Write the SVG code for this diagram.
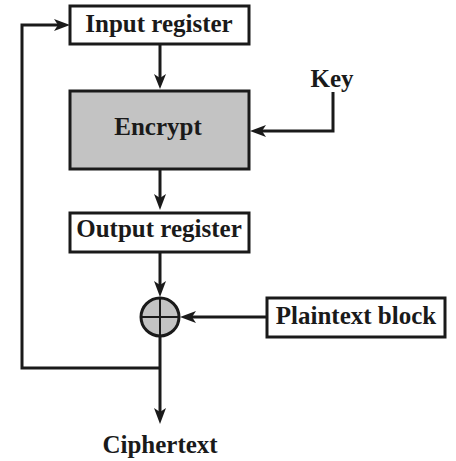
<svg xmlns="http://www.w3.org/2000/svg" width="456" height="461" viewBox="0 0 456 461">
<style>
.box{fill:#fff;stroke:#1a1a1a;stroke-width:3}
.grey{fill:#c3c3c3}
.lbl{font-family:"Liberation Serif","Times New Roman",serif;font-weight:bold;font-size:25px;fill:#1a1a1a;text-anchor:middle}
.ln{fill:none;stroke:#1a1a1a;stroke-width:3}
.head{fill:#1a1a1a}
</style>
<rect width="456" height="461" fill="#fff"/>
<g id="connectors">
<line class="ln" x1="160" y1="45" x2="160" y2="80"/>
<path class="head" d="M154,74 L160,89 L166,74 L160,78 z"/>
<line class="ln" x1="160" y1="170" x2="160" y2="200"/>
<path class="head" d="M154,194 L160,210 L166,194 L160,198 z"/>
<polyline class="ln" points="333,92 333,131 258,131"/>
<path class="head" d="M266,125 L250,131 L266,137 L262,131 z"/>
<line class="ln" x1="160" y1="253" x2="160" y2="288"/>
<path class="head" d="M154,281 L160,297 L166,281 L160,285 z"/>
<line class="ln" x1="267" y1="317" x2="188" y2="317"/>
<path class="head" d="M196,311 L180,317 L196,323 L192,317 z"/>
<line class="ln" x1="160" y1="337" x2="160" y2="414"/>
<path class="head" d="M154,408 L160,424 L166,408 L160,412 z"/>
<polyline class="ln" points="160,368 22,368 22,25 60,25"/>
<path class="head" d="M54,19 L70,25 L54,31 L58,25 z"/>
</g>
<g id="input-register">
<rect class="box" x="70" y="6" width="179" height="38"/>
<text class="lbl" x="159" y="32">Input register</text>
</g>
<g id="encrypt">
<rect class="box grey" x="70" y="91" width="179" height="78"/>
<text class="lbl" x="158" y="135">Encrypt</text>
</g>
<g id="key">
<text class="lbl" x="332" y="87">Key</text>
</g>
<g id="output-register">
<rect class="box" x="70" y="213" width="179" height="39"/>
<text class="lbl" x="159" y="237">Output register</text>
</g>
<g id="xor">
<circle cx="160" cy="317" r="19" fill="#c3c3c3" stroke="#1a1a1a" stroke-width="3"/>
<line class="ln" x1="141" y1="317" x2="179" y2="317" style="stroke-width:2"/>
<line class="ln" x1="160" y1="298" x2="160" y2="336" style="stroke-width:2"/>
</g>
<g id="plaintext-block">
<rect class="box" x="267" y="298" width="178" height="39"/>
<text class="lbl" x="356" y="324">Plaintext block</text>
</g>
<g id="ciphertext">
<text class="lbl" x="160" y="453">Ciphertext</text>
</g>
</svg>
